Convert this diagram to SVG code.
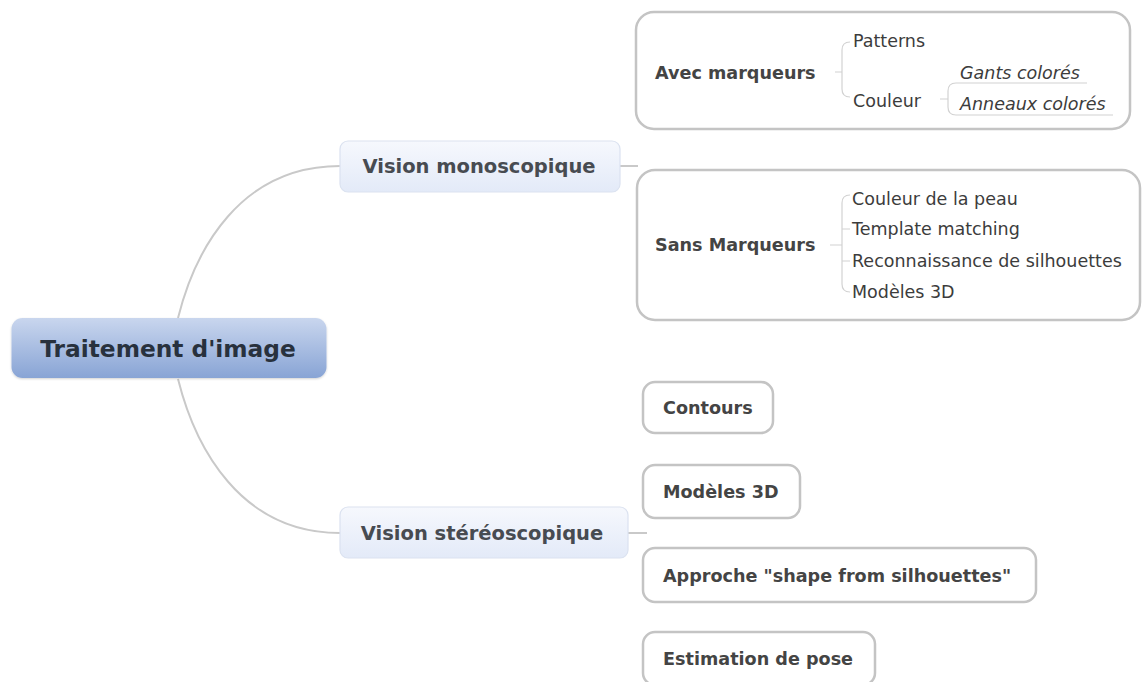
<svg xmlns="http://www.w3.org/2000/svg" width="1143" height="682" viewBox="0 0 1143 682">
<defs>
<linearGradient id="gRoot" x1="0" y1="0" x2="0" y2="1">
<stop offset="0" stop-color="#c9d6ee"/>
<stop offset="1" stop-color="#88a4d5"/>
</linearGradient>
<linearGradient id="gL1" x1="0" y1="0" x2="0" y2="1">
<stop offset="0" stop-color="#f6f8fd"/>
<stop offset="1" stop-color="#e3eaf8"/>
</linearGradient>
<filter id="sh" x="-10%" y="-20%" width="120%" height="150%">
<feDropShadow dx="0" dy="1" stdDeviation="1.2" flood-color="#000" flood-opacity="0.18"/>
</filter>
</defs>
<style>
text{font-family:"DejaVu Sans",Verdana,sans-serif}
.root{font-size:23.3px;font-weight:bold;fill:#28313d}
.l1{font-size:19.5px;font-weight:bold;fill:#474b51}
.l2{font-size:17.6px;font-weight:bold;fill:#444}
.it{font-size:17.5px;fill:#3c3c3c}
.ital{font-style:italic}
.box{fill:#fff;stroke:#c4c4c4;stroke-width:2.5}
.l1box{fill:url(#gL1);stroke:#dbe2f0;stroke-width:1.2}
.conn{fill:none;stroke:#c9c9c9;stroke-width:2}
.br{fill:none;stroke:#d2d2d2;stroke-width:1.2}
</style>
<rect width="1143" height="682" fill="#fff"/>

<g id="connectors">
<path class="conn" d="M178,318 C195,250 240,166 340,166"/>
<path class="conn" d="M178,379 C195,447 240,533 340,533"/>
<path class="conn" d="M620,166 H638"/>
<path class="conn" d="M628,533 H647"/>
</g>

<g id="root">
<rect x="11.5" y="318" width="315" height="60" rx="11" fill="url(#gRoot)" filter="url(#sh)"/>
<text class="root" x="168" y="357" text-anchor="middle">Traitement d'image</text>
</g>

<g id="vision-mono">
<rect class="l1box" x="340" y="141" width="280" height="51" rx="8"/>
<text class="l1" x="479" y="173" text-anchor="middle">Vision monoscopique</text>
</g>

<g id="vision-stereo">
<rect class="l1box" x="340" y="507" width="288" height="51" rx="8"/>
<text class="l1" x="482" y="540" text-anchor="middle">Vision stéréoscopique</text>
</g>

<g id="avec-marqueurs">
<rect class="box" x="636" y="12" width="494" height="117" rx="18"/>
<text class="l2" x="655" y="79">Avec marqueurs</text>
<path class="br" d="M835,72 H842 M850,42 Q842,42 842,50 V89 Q842,97 850,97"/>
<text class="it" x="853" y="47">Patterns</text>
<text class="it" x="853" y="107">Couleur</text>
<path class="br" d="M940,99 H948 M956,83 Q948,83 948,91 V107 Q948,115 956,115"/>
<path class="br" d="M956,83 H1087 M956,115 H1113"/>
<text class="it ital" x="960" y="79">Gants colorés</text>
<text class="it ital" x="960" y="110">Anneaux colorés</text>
</g>

<g id="sans-marqueurs">
<rect class="box" x="637" y="170" width="503" height="150" rx="18"/>
<text class="l2" x="655" y="251">Sans Marqueurs</text>
<path class="br" d="M830,245 H842 M850,195 Q842,195 842,203 V284 Q842,292 850,292 M842,229 H850 M842,261 H850"/>
<text class="it" x="852" y="205">Couleur de la peau</text>
<text class="it" x="852" y="235">Template matching</text>
<text class="it" x="852" y="267">Reconnaissance de silhouettes</text>
<text class="it" x="852" y="298">Modèles 3D</text>
</g>

<g id="contours">
<rect class="box" x="643" y="382" width="130" height="51" rx="12"/>
<text class="l2" x="663" y="414">Contours</text>
</g>

<g id="modeles-3d">
<rect class="box" x="643" y="465" width="157" height="53" rx="12"/>
<text class="l2" x="663" y="498">Modèles 3D</text>
</g>

<g id="approche">
<rect class="box" x="643" y="548" width="393" height="54" rx="12"/>
<text class="l2" x="663" y="582">Approche "shape from silhouettes"</text>
</g>

<g id="estimation">
<rect class="box" x="643" y="632" width="232" height="53" rx="12"/>
<text class="l2" x="663" y="665">Estimation de pose</text>
</g>
</svg>
